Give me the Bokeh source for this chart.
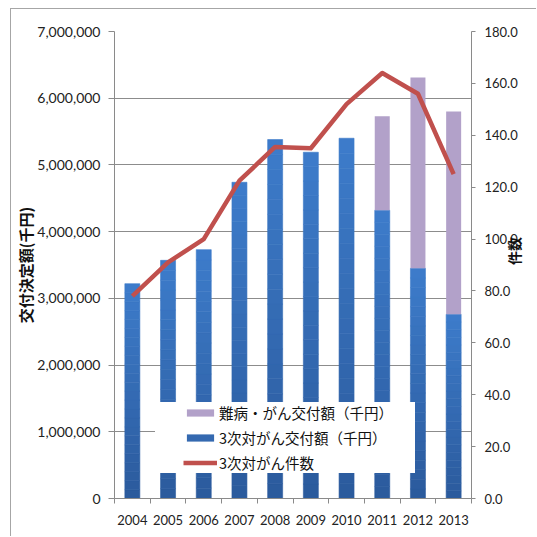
import math
import numpy as np
from bokeh.plotting import figure
from bokeh.models import (Range1d, LinearAxis, FixedTicker, NumeralTickFormatter,
                          Legend, LegendItem, ColumnDataSource)
from bokeh.embed import file_html
from bokeh.resources import INLINE

# ---- data ----
years = ["2004", "2005", "2006", "2007", "2008", "2009", "2010", "2011", "2012", "2013"]
gan3_amount = [3220000, 3570000, 3730000, 4740000, 5380000, 5190000, 5400000, 4320000, 3450000, 2760000]
nanbyo_amount = [0, 0, 0, 0, 0, 0, 0, 1410000, 2860000, 3040000]
gan3_count = [78.0, 91.0, 100.0, 122.5, 135.5, 135.0, 152.0, 164.0, 156.0, 125.0]
left_ticks = [0, 1000000, 2000000, 3000000, 4000000, 5000000, 6000000, 7000000]
right_ticks = [0, 20, 40, 60, 80, 100, 120, 140, 160, 180]

label_nanbyo = "難病・がん交付額（千円）"
label_gan3 = "3次対がん交付額（千円）"
label_count = "3次対がん件数"
ylabel_left = "交付決定額(千円)"
ylabel_right = "件数"

n = len(years)
xc = np.arange(n) + 0.5
gan3 = np.array(gan3_amount, dtype=float)
nan = np.array(nanbyo_amount, dtype=float)

TICK_FONT = "Lato"
CJK = "Noto Sans CJK JP"

p = figure(width=526, height=528, output_backend="svg", toolbar_location=None,
           x_range=Range1d(0, n), y_range=Range1d(0, 7000000),
           min_border_left=103, min_border_right=66, min_border_top=22, min_border_bottom=39)
p.styles = {"border-left": "1px solid #a6a6a6", "border-top": "1px solid #a6a6a6",
            "margin-left": "10px", "margin-top": "8px"}
p.outline_line_color = None
p.background_fill_color = "white"
p.border_fill_color = "white"
p.extra_y_ranges = {"cnt": Range1d(0, 180)}

# gradient bars: slices from dark (bottom) to light (top)
NS = 24
bot_c = np.array([0x2B, 0x5A, 0x9C])
top_c = np.array([0x3D, 0x7C, 0xCB])
W = 0.42
xs, bs, ts, cs = [], [], [], []
for k in range(NS):
    f = (k + 0.5) / NS
    c = bot_c + (top_c - bot_c) * f
    col = "#%02x%02x%02x" % tuple(int(round(v)) for v in c)
    for i in range(n):
        xs.append(xc[i]); bs.append(gan3[i] * k / NS); ts.append(gan3[i] * (k + 1) / NS); cs.append(col)
p.vbar(x=xs, bottom=bs, top=ts, width=W, fill_color=cs, line_color=cs, line_width=0.6)
# legend proxy for blue
blue_leg = p.vbar(x=[xc[0]], bottom=[0], top=[0], width=W, fill_color="#3469B0", line_color=None)

src_n = ColumnDataSource(dict(x=xc, bottom=gan3, top=gan3 + nan))
purple = p.vbar(x="x", bottom="bottom", top="top", width=W, source=src_n,
                fill_color="#B2A1C9", line_color=None)

line = p.line(xc, gan3_count, y_range_name="cnt", line_color="#C0504D", line_width=4.5,
              line_join="round")

# axes
ax = p.yaxis[0]
ax.ticker = FixedTicker(ticks=left_ticks)
ax.formatter = NumeralTickFormatter(format="0,0")
ax.axis_line_color = "#8a8a8a"
ax.major_tick_line_color = "#8a8a8a"
ax.major_tick_out = 6
ax.major_tick_in = 0
ax.minor_tick_line_color = None
ax.major_label_standoff = 8
ax.major_label_text_font = TICK_FONT
ax.major_label_text_font_size = "14px"
ax.major_label_text_color = "#222222"
ax.axis_label = ylabel_left
ax.axis_label_text_font = CJK
ax.axis_label_text_font_size = "15px"
ax.axis_label_text_font_style = "bold"
ax.axis_label_text_color = "#111111"
ax.axis_label_standoff = -2

ra = LinearAxis(y_range_name="cnt")
ra.ticker = FixedTicker(ticks=right_ticks)
ra.formatter = NumeralTickFormatter(format="0.0")
ra.axis_line_color = "#8a8a8a"
ra.major_tick_line_color = "#8a8a8a"
ra.major_tick_out = 4
ra.major_tick_in = 0
ra.minor_tick_line_color = None
ra.major_label_standoff = 9
ra.major_label_text_font = TICK_FONT
ra.major_label_text_font_size = "13px"
ra.major_label_text_color = "#222222"
ra.axis_label = ylabel_right
ra.axis_label_orientation = math.pi / 2
ra.axis_label_text_font = CJK
ra.axis_label_text_font_size = "14px"
ra.axis_label_text_font_style = "bold"
ra.axis_label_text_color = "#111111"
ra.axis_label_standoff = -7
p.add_layout(ra, "right")

xa = p.xaxis[0]
xa.ticker = FixedTicker(ticks=list(xc), minor_ticks=list(range(n + 1)))
xa.major_label_overrides = {float(v): y for v, y in zip(xc, years)}
xa.axis_line_color = "#8a8a8a"
xa.major_tick_line_color = None
xa.minor_tick_line_color = "#8a8a8a"
xa.minor_tick_out = 5
xa.minor_tick_in = 0
xa.major_label_standoff = 10
xa.major_label_text_font = TICK_FONT
xa.major_label_text_font_size = "13px"
xa.major_label_text_color = "#222222"

p.xgrid.grid_line_color = None
p.ygrid.grid_line_color = "#8c8c8c"
p.ygrid.grid_line_width = 1
p.ygrid.ticker = FixedTicker(ticks=left_ticks)

legend = Legend(items=[
    LegendItem(label=label_nanbyo, renderers=[purple]),
    LegendItem(label=label_gan3, renderers=[blue_leg]),
    LegendItem(label=label_count, renderers=[line]),
], location=(41, 25), orientation="vertical")
legend.background_fill_color = "white"
legend.background_fill_alpha = 1.0
legend.border_line_color = None
legend.padding = 3
legend.margin = 0
legend.spacing = 4
legend.glyph_width = 34
legend.glyph_height = 9
legend.label_height = 20
legend.label_width = 196
legend.label_standoff = 2
legend.label_text_font = CJK
legend.label_text_font_size = "14.5px"
legend.label_text_color = "#111111"
legend.title = "\u3000"
legend.title_location = "left"
legend.title_text_font_size = "12px"
legend.title_standoff = 11
p.add_layout(legend)

open("out.html", "w").write(file_html(p, INLINE))
